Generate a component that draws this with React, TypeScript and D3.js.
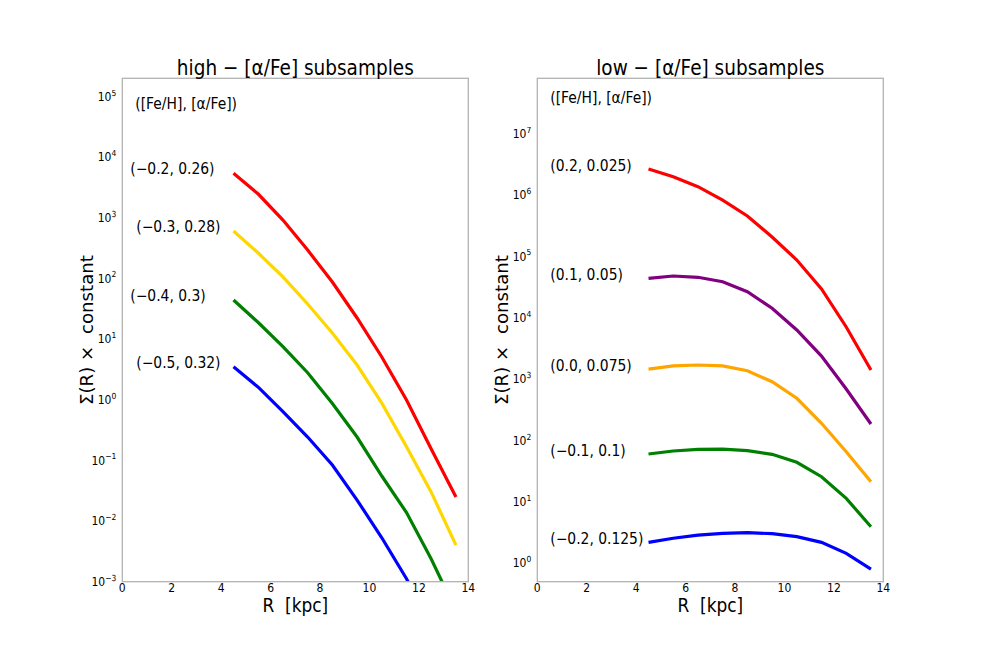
import React from 'react';
import * as d3 from 'd3';

// galactocentric radii of the profile bins (kpc)
const radii = [4.5, 5.5, 6.5, 7.5, 8.5, 9.5, 10.5, 11.5, 12.5, 13.5];

// high-[α/Fe] surface density profiles
const highRed = [5420, 2470, 920, 294, 87.4, 22.3, 5.07, 0.99, 0.154, 0.025];
const highGold = [606, 263, 106, 37.9, 12.6, 3.74, 0.88, 0.168, 0.03, 0.004];
const highGreen = [44.2, 18.8, 7.55, 2.79, 0.867, 0.243, 0.0553, 0.0138, 0.00237, 0.00033];
const highBlue = [3.51, 1.61, 0.64, 0.243, 0.0839, 0.0222, 0.0053, 0.00112, 0.00019, 0.00002];
const highLabels = ['(−0.2, 0.26)', '(−0.3, 0.28)', '(−0.4, 0.3)', '(−0.5, 0.32)'];

// low-[α/Fe] surface density profiles
const lowRed = [2.66e6, 1.99e6, 1.37e6, 8.3e5, 4.56e5, 2.07e5, 8.75e4, 2.95e4, 7.08e3, 1.41e3];
const lowPurple = [4.4e4, 4.8e4, 4.57e4, 3.87e4, 2.66e4, 1.43e4, 6.32e3, 2.38e3, 690, 186];
const lowOrange = [1460, 1640, 1700, 1640, 1370, 908, 488, 191, 65.7, 21.3];
const lowGreen = [60.3, 67.5, 71.9, 72.5, 68.2, 59.6, 44.2, 25.7, 11.4, 3.94];
const lowBlue = [2.19, 2.55, 2.88, 3.07, 3.15, 3.03, 2.71, 2.19, 1.45, 0.8];
const lowLabels = ['(0.2, 0.025)', '(0.1, 0.05)', '(0.0, 0.075)', '(−0.1, 0.1)', '(−0.2, 0.125)'];

const xTicks = [0, 2, 4, 6, 8, 10, 12, 14];
const highExps = [-3, -2, -1, 0, 1, 2, 3, 4, 5];
const lowExps = [0, 1, 2, 3, 4, 5, 6, 7];

const W = 981;
const H = 654;
const TOP = 78.3;
const BOTTOM = 581.7;
const FONT = '"DejaVu Sans", sans-serif';

// the reference text is a little narrower than DejaVu, so squeeze it sideways
const T: React.FC<{
  x: number; y: number; size: number; sx?: number;
  anchor?: 'start' | 'middle' | 'end'; baseline?: string; children: React.ReactNode;
}> = ({ x, y, size, sx = 0.88, anchor = 'start', baseline, children }) => (
  <text
    transform={`translate(${x},${y}) scale(${sx},1)`}
    textAnchor={anchor}
    dominantBaseline={baseline}
    fontSize={size}
    fill="#000"
    style={{ whiteSpace: 'pre' }}
  >
    {children}
  </text>
);

interface Series {
  values: number[];
  color: string;
  label: string;
  labelDx: number;
}

interface PanelProps {
  id: string;
  left: number;
  right: number;
  title: string;
  yDomain: [number, number];
  exps: number[];
  series: Series[];
  labelShift: number;
  headerY: number;
  headerDx: number;
}

const Panel: React.FC<PanelProps> = ({ id, left, right, title, yDomain, exps, series, labelShift, headerY, headerDx }) => {
  const x = d3.scaleLinear().domain([0, 14]).range([left, right]);
  const y = d3.scaleLog().domain(yDomain).range([BOTTOM, TOP]);
  const line = d3.line<[number, number]>()
    .x(d => x(d[0]))
    .y(d => y(d[1]));
  const cx = (left + right) / 2;

  return (
    <g fontFamily={FONT}>
      <defs>
        <clipPath id={id}>
          <rect x={left} y={TOP} width={right - left} height={BOTTOM - TOP} />
        </clipPath>
      </defs>

      {/* profiles */}
      <g clipPath={`url(#${id})`} fill="none" strokeWidth={3.2}>
        {series.map((s, i) => (
          <path key={i} d={line(radii.map((r, j) => [r, s.values[j]]) as [number, number][]) || ''} stroke={s.color} />
        ))}
      </g>

      {/* frame */}
      <rect x={left} y={TOP} width={right - left} height={BOTTOM - TOP} fill="none" stroke="#b3b3b3" strokeWidth={1.3} />

      {/* x ticks */}
      {xTicks.map(t => (
        <T key={t} x={x(t)} y={592} size={12} sx={0.9} anchor="middle">{t}</T>
      ))}

      {/* y ticks */}
      {exps.map(e => (
        <T key={e} x={left - 6} y={y(Math.pow(10, e)) + 4.2} size={12} sx={0.9} anchor="end">
          10<tspan dy={-5.2} fontSize={8.4}>{e < 0 ? `−${-e}` : e}</tspan>
        </T>
      ))}

      <T x={cx} y={75} size={21} sx={0.88} anchor="middle">{title}</T>
      <T x={cx} y={611.5} size={19.3} anchor="middle">R  [kpc]</T>
      <text
        transform={`translate(${left - 29},${(TOP + BOTTOM) / 2}) rotate(-90)`}
        textAnchor="middle"
        fontSize={18.2}
        fill="#000"
        style={{ whiteSpace: 'pre' }}
      >
        Σ(R) ×  constant
      </text>

      {/* annotations */}
      <T x={left + headerDx} y={headerY} size={15.6} sx={0.89} baseline="central">([Fe/H], [α/Fe])</T>
      {series.map((s, i) => (
        <T key={i} x={left + s.labelDx} y={y(s.values[0]) + labelShift} size={15.6} sx={0.89} baseline="central">
          {s.label}
        </T>
      ))}
    </g>
  );
};

const App: React.FC = () => {
  const high: Series[] = [
    { values: highRed, color: 'red', label: highLabels[0], labelDx: 8 },
    { values: highGold, color: 'gold', label: highLabels[1], labelDx: 14 },
    { values: highGreen, color: 'green', label: highLabels[2], labelDx: 8 },
    { values: highBlue, color: 'blue', label: highLabels[3], labelDx: 14 },
  ];
  const low: Series[] = [
    { values: lowRed, color: 'red', label: lowLabels[0], labelDx: 13 },
    { values: lowPurple, color: 'purple', label: lowLabels[1], labelDx: 13 },
    { values: lowOrange, color: 'orange', label: lowLabels[2], labelDx: 13 },
    { values: lowGreen, color: 'green', label: lowLabels[3], labelDx: 13 },
    { values: lowBlue, color: 'blue', label: lowLabels[4], labelDx: 13 },
  ];

  return (
    <svg
      width={W}
      height={H}
      viewBox={`0 0 ${W} ${H}`}
      style={{ position: 'absolute', left: 0, top: 0, background: '#fff' }}
    >
      <rect width={W} height={H} fill="#fff" />
      <Panel
        id="clip-high"
        left={122.3}
        right={468.3}
        title="high − [α/Fe] subsamples"
        yDomain={[1e-3, 2e5]}
        exps={highExps}
        series={high}
        labelShift={-5}
        headerY={102.7}
        headerDx={13}
      />
      <Panel
        id="clip-low"
        left={537.3}
        right={883.3}
        title="low − [α/Fe] subsamples"
        yDomain={[0.5, 8e7]}
        exps={lowExps}
        series={low}
        labelShift={-4}
        headerY={96.7}
        headerDx={13}
      />
    </svg>
  );
};

export default App;
